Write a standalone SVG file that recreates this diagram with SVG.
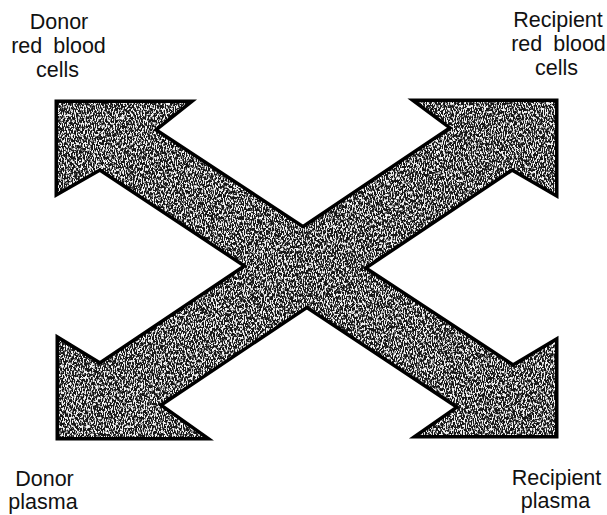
<svg xmlns="http://www.w3.org/2000/svg" width="607" height="515" viewBox="0 0 607 515">
  <style>
    .lbl { font-family: "Liberation Sans", Arial, sans-serif; font-size: 21.5px; fill: #111; text-anchor: middle; }
    .outline { fill: #000; stroke: #000; stroke-width: 7; stroke-linejoin: miter; stroke-miterlimit: 10; }
    .body { fill: #161616; stroke: none; }
  </style>
  <defs>
    <filter id="speckle" x="0" y="0" width="1" height="1" filterUnits="objectBoundingBox" color-interpolation-filters="sRGB">
      <feTurbulence type="fractalNoise" baseFrequency="0.9 0.35" numOctaves="3" seed="7" result="noise"/>
      <feColorMatrix in="noise" type="matrix" values="0 0 0 0 0.95  0 0 0 0 0.95  0 0 0 0 0.95  7 0 0 0 -3.22" result="white"/>
      <feComposite in="white" in2="SourceGraphic" operator="in" result="spk"/>
      <feMerge>
        <feMergeNode in="SourceGraphic"/>
        <feMergeNode in="spk"/>
      </feMerge>
    </filter>
    <polygon id="arrowA" points="58,103 187,103 153,130 513,367 555,342 555,435 420,435 460,407 100,168 58,192"/>
    <polygon id="arrowB" points="59,437 59,340 100,365 453,128 418,102 555,102 555,193 512,168 158,405 203,437"/>
  </defs>

  <g id="connectors">
    <g id="outlines" class="outline">
      <use href="#arrowA"/>
      <use href="#arrowB"/>
    </g>
    <g id="bodies" class="body" filter="url(#speckle)">
      <use href="#arrowA"/>
      <use href="#arrowB"/>
    </g>
  </g>

  <g id="donor-rbc">
    <text class="lbl" x="59" y="29">Donor</text>
    <text class="lbl" x="58.5" y="53" word-spacing="5">red blood</text>
    <text class="lbl" x="57.5" y="77">cells</text>
  </g>
  <g id="recipient-rbc">
    <text class="lbl" x="558" y="27">Recipient</text>
    <text class="lbl" x="558.5" y="51" word-spacing="5">red blood</text>
    <text class="lbl" x="556.5" y="75">cells</text>
  </g>
  <g id="donor-plasma">
    <text class="lbl" x="44.5" y="486">Donor</text>
    <text class="lbl" x="43" y="509">plasma</text>
  </g>
  <g id="recipient-plasma">
    <text class="lbl" x="556.5" y="485">Recipient</text>
    <text class="lbl" x="555.5" y="508">plasma</text>
  </g>
</svg>
